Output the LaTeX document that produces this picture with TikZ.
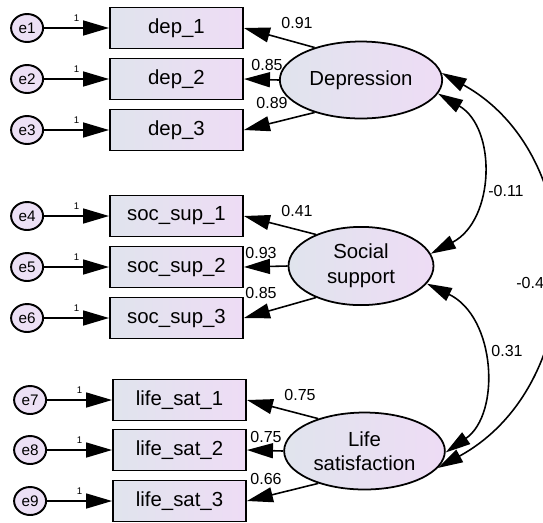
\documentclass[tikz,border=0pt]{standalone}
\usepackage{fontspec}
\setmainfont{Liberation Sans}
\usepackage{xcolor}
\usetikzlibrary{arrows.meta,positioning,shapes.geometric}

\definecolor{fillleft}{RGB}{224,228,237}
\definecolor{fillright}{RGB}{238,220,245}
\definecolor{errfill}{RGB}{236,224,245}

\begin{document}
\begin{tikzpicture}[
    x=0.02cm, y=-0.02cm,
    node distance=1.3cm,
    obs/.style={rectangle,draw,line width=1.1pt,left color=fillleft,right color=fillright,minimum width=2.66cm,minimum height=0.82cm,font=\fontsize{11.6}{14}\selectfont},
    lat/.style={ellipse,draw,line width=1pt,left color=fillleft,right color=fillright,minimum width=2.9cm,minimum height=1.54cm,align=center,font=\fontsize{11.6}{14}\selectfont},
    err/.style={ellipse,draw,line width=1.1pt,fill=errfill,minimum width=0.64cm,minimum height=0.56cm,inner sep=0pt,font=\fontsize{8.7}{10}\selectfont},
    arrow/.style={-{Triangle[length=0.52cm,width=0.3cm]},line width=0.9pt},
    cov/.style={{Triangle[length=0.5cm,width=0.28cm]}-{Triangle[length=0.5cm,width=0.28cm]},line width=0.9pt},
    coef/.style={font=\fontsize{9.1}{10}\selectfont,inner sep=0pt},
    one/.style={font=\fontsize{5.5}{6}\selectfont,inner sep=1pt,above=2pt}
]
\useasboundingbox (0,0) rectangle (543,522);
\clip (0,0) rectangle (543,522);
% observed variables
\node[obs] (d1) at (176.5,28) {dep\_1};
\node[obs] (d2) at (176.5,79) {dep\_2};
\node[obs] (d3) at (176.5,130) {dep\_3};
\node[obs] (s1) at (176.5,216) {soc\_sup\_1};
\node[obs] (s2) at (176.5,267) {soc\_sup\_2};
\node[obs] (s3) at (176.5,318) {soc\_sup\_3};
\node[obs] (l1) at (179.5,400) {life\_sat\_1};
\node[obs] (l2) at (179.5,450) {life\_sat\_2};
\node[obs] (l3) at (179.5,501) {life\_sat\_3};
% error terms
\node[err,left=of d1] (e1) {e1};
\node[err,left=of d2] (e2) {e2};
\node[err,left=of d3] (e3) {e3};
\node[err,left=of s1] (e4) {e4};
\node[err,left=of s2] (e5) {e5};
\node[err,left=of s3] (e6) {e6};
\node[err,left=of l1] (e7) {e7};
\node[err,left=of l2] (e8) {e8};
\node[err,left=of l3] (e9) {e9};
% latent variables
\node[lat] (dep) at (361,80) {Depression};
\node[lat] (soc) at (361,266) {Social\\support};
\node[lat] (life) at (364.5,451) {Life\\satisfaction};
% error paths
\draw[arrow] (e1) -- node[one] (o1) {1} (d1);
\draw[arrow] (e2) -- node[one] (o2) {1} (d2);
\draw[arrow] (e3) -- node[one] (o3) {1} (d3);
\draw[arrow] (e4) -- node[one] (o4) {1} (s1);
\draw[arrow] (e5) -- node[one] (o5) {1} (s2);
\draw[arrow] (e6) -- node[one] (o6) {1} (s3);
\draw[arrow] (e7) -- node[one] (o7) {1} (l1);
\draw[arrow] (e8) -- node[one] (o8) {1} (l2);
\draw[arrow] (e9) -- node[one] (o9) {1} (l3);
% loadings
\draw[arrow] (dep.145) -- (d1.east);
\draw[arrow] (dep.west) -- (d2.east);
\draw[arrow] (dep.215) -- (d3.east);
\draw[arrow] (soc.145) -- (s1.east);
\draw[arrow] (soc.west) -- (s2.east);
\draw[arrow] (soc.215) -- (s3.east);
\draw[arrow] (life.145) -- (l1.east);
\draw[arrow] (life.west) -- (l2.east);
\draw[arrow] (life.215) -- (l3.east);
\node[coef] (w1) at (297,23) {0.91};
\node[coef] (w2) at (267,65) {0.85};
\node[coef] (w3) at (272,103) {0.89};
\node[coef] (w4) at (297,211) {0.41};
\node[coef] (w5) at (261,253) {0.93};
\node[coef] (w6) at (261,293) {0.85};
\node[coef] (w7) at (300,395) {0.75};
\node[coef] (w8) at (266,437) {0.75};
\node[coef] (w9) at (266,479) {0.66};
% covariances
\draw[cov] (dep.-10) .. controls (497,128) and (495,220) .. (soc.10);
\draw[cov] (soc.-15) .. controls (496,317) and (501,414) .. (life.-1);
\draw[cov] (dep.5) .. controls (592,156) and (591,384) .. (life.-13);
\node[coef] (c1) at (506,191) {-0.11};
\node[coef] (c2) at (507,351) {0.31};
\node[coef,anchor=west] (c3) at (516,283) {-0.4};
\end{tikzpicture}
\end{document}
